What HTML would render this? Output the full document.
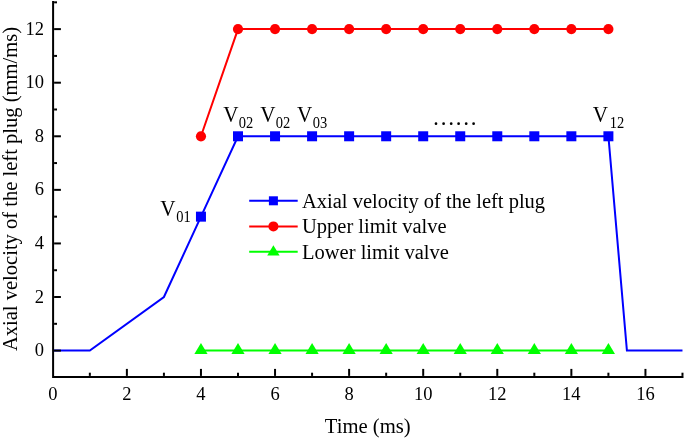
<!DOCTYPE html><html><head><meta charset="utf-8"><style>html,body{margin:0;padding:0;background:#fff;}svg{display:block;will-change:transform;}text{font-family:"Liberation Serif",serif;fill:#000;}</style></head><body>
<svg width="685" height="439" viewBox="0 0 685 439">
<rect width="685" height="439" fill="#fff"/>
<polyline fill="none" stroke="#0000ff" stroke-width="2" stroke-linejoin="miter" points="52.80,350.60 89.84,350.60 163.92,297.02 200.96,216.65 238.00,136.28 275.04,136.28 312.08,136.28 349.12,136.28 386.16,136.28 423.20,136.28 460.24,136.28 497.28,136.28 534.32,136.28 571.36,136.28 608.40,136.28 626.92,350.60 682.48,350.60"/>
<polyline fill="none" stroke="#ff0000" stroke-width="2" stroke-linejoin="miter" points="200.96,136.28 238.00,29.12 275.04,29.12 312.08,29.12 349.12,29.12 386.16,29.12 423.20,29.12 460.24,29.12 497.28,29.12 534.32,29.12 571.36,29.12 608.40,29.12"/>
<polyline fill="none" stroke="#00ff00" stroke-width="2" stroke-linejoin="miter" points="200.96,350.60 238.00,350.60 275.04,350.60 312.08,350.60 349.12,350.60 386.16,350.60 423.20,350.60 460.24,350.60 497.28,350.60 534.32,350.60 571.36,350.60 608.40,350.60"/>
<rect x="195.96" y="211.65" width="10" height="10" fill="#0000ff"/>
<rect x="233.00" y="131.28" width="10" height="10" fill="#0000ff"/>
<rect x="270.04" y="131.28" width="10" height="10" fill="#0000ff"/>
<rect x="307.08" y="131.28" width="10" height="10" fill="#0000ff"/>
<rect x="344.12" y="131.28" width="10" height="10" fill="#0000ff"/>
<rect x="381.16" y="131.28" width="10" height="10" fill="#0000ff"/>
<rect x="418.20" y="131.28" width="10" height="10" fill="#0000ff"/>
<rect x="455.24" y="131.28" width="10" height="10" fill="#0000ff"/>
<rect x="492.28" y="131.28" width="10" height="10" fill="#0000ff"/>
<rect x="529.32" y="131.28" width="10" height="10" fill="#0000ff"/>
<rect x="566.36" y="131.28" width="10" height="10" fill="#0000ff"/>
<rect x="603.40" y="131.28" width="10" height="10" fill="#0000ff"/>
<circle cx="200.96" cy="136.28" r="5.1" fill="#ff0000"/>
<circle cx="238.00" cy="29.12" r="5.1" fill="#ff0000"/>
<circle cx="275.04" cy="29.12" r="5.1" fill="#ff0000"/>
<circle cx="312.08" cy="29.12" r="5.1" fill="#ff0000"/>
<circle cx="349.12" cy="29.12" r="5.1" fill="#ff0000"/>
<circle cx="386.16" cy="29.12" r="5.1" fill="#ff0000"/>
<circle cx="423.20" cy="29.12" r="5.1" fill="#ff0000"/>
<circle cx="460.24" cy="29.12" r="5.1" fill="#ff0000"/>
<circle cx="497.28" cy="29.12" r="5.1" fill="#ff0000"/>
<circle cx="534.32" cy="29.12" r="5.1" fill="#ff0000"/>
<circle cx="571.36" cy="29.12" r="5.1" fill="#ff0000"/>
<circle cx="608.40" cy="29.12" r="5.1" fill="#ff0000"/>
<polygon points="200.96,343.00 194.36,354.00 207.56,354.00" fill="#00ff00"/>
<polygon points="238.00,343.00 231.40,354.00 244.60,354.00" fill="#00ff00"/>
<polygon points="275.04,343.00 268.44,354.00 281.64,354.00" fill="#00ff00"/>
<polygon points="312.08,343.00 305.48,354.00 318.68,354.00" fill="#00ff00"/>
<polygon points="349.12,343.00 342.52,354.00 355.72,354.00" fill="#00ff00"/>
<polygon points="386.16,343.00 379.56,354.00 392.76,354.00" fill="#00ff00"/>
<polygon points="423.20,343.00 416.60,354.00 429.80,354.00" fill="#00ff00"/>
<polygon points="460.24,343.00 453.64,354.00 466.84,354.00" fill="#00ff00"/>
<polygon points="497.28,343.00 490.68,354.00 503.88,354.00" fill="#00ff00"/>
<polygon points="534.32,343.00 527.72,354.00 540.92,354.00" fill="#00ff00"/>
<polygon points="571.36,343.00 564.76,354.00 577.96,354.00" fill="#00ff00"/>
<polygon points="608.40,343.00 601.80,354.00 615.00,354.00" fill="#00ff00"/>
<g stroke="#000" stroke-width="2" fill="none">
<path d="M53.1,1 V377.9 M52.1,376.9 H683.5"/>
<path d="M54.1,350.60 h6.8"/>
<path d="M54.1,323.81 h2.9"/>
<path d="M54.1,297.02 h6.8"/>
<path d="M54.1,270.23 h2.9"/>
<path d="M54.1,243.44 h6.8"/>
<path d="M54.1,216.65 h2.9"/>
<path d="M54.1,189.86 h6.8"/>
<path d="M54.1,163.07 h2.9"/>
<path d="M54.1,136.28 h6.8"/>
<path d="M54.1,109.49 h2.9"/>
<path d="M54.1,82.70 h6.8"/>
<path d="M54.1,55.91 h2.9"/>
<path d="M54.1,29.12 h6.8"/>
<path d="M54.1,2.33 h2.9"/>
<path d="M89.84,375.9 v-3.2"/>
<path d="M126.88,375.9 v-7.0"/>
<path d="M163.92,375.9 v-3.2"/>
<path d="M200.96,375.9 v-7.0"/>
<path d="M238.00,375.9 v-3.2"/>
<path d="M275.04,375.9 v-7.0"/>
<path d="M312.08,375.9 v-3.2"/>
<path d="M349.12,375.9 v-7.0"/>
<path d="M386.16,375.9 v-3.2"/>
<path d="M423.20,375.9 v-7.0"/>
<path d="M460.24,375.9 v-3.2"/>
<path d="M497.28,375.9 v-7.0"/>
<path d="M534.32,375.9 v-3.2"/>
<path d="M571.36,375.9 v-7.0"/>
<path d="M608.40,375.9 v-3.2"/>
<path d="M645.44,375.9 v-7.0"/>
<path d="M682.48,375.9 v-3.2"/>
</g>
<text x="44" y="356.20" font-size="18.5" text-anchor="end">0</text>
<text x="44" y="302.62" font-size="18.5" text-anchor="end">2</text>
<text x="44" y="249.04" font-size="18.5" text-anchor="end">4</text>
<text x="44" y="195.46" font-size="18.5" text-anchor="end">6</text>
<text x="44" y="141.88" font-size="18.5" text-anchor="end">8</text>
<text x="44" y="88.30" font-size="18.5" text-anchor="end">10</text>
<text x="44" y="34.72" font-size="18.5" text-anchor="end">12</text>
<text x="52.80" y="399.5" font-size="18.5" text-anchor="middle">0</text>
<text x="126.88" y="399.5" font-size="18.5" text-anchor="middle">2</text>
<text x="200.96" y="399.5" font-size="18.5" text-anchor="middle">4</text>
<text x="275.04" y="399.5" font-size="18.5" text-anchor="middle">6</text>
<text x="349.12" y="399.5" font-size="18.5" text-anchor="middle">8</text>
<text x="423.20" y="399.5" font-size="18.5" text-anchor="middle">10</text>
<text x="497.28" y="399.5" font-size="18.5" text-anchor="middle">12</text>
<text x="571.36" y="399.5" font-size="18.5" text-anchor="middle">14</text>
<text x="645.44" y="399.5" font-size="18.5" text-anchor="middle">16</text>
<text x="367.7" y="433.3" font-size="20.65" text-anchor="middle">Time (ms)</text>
<text transform="translate(16.5,189.05) rotate(-90)" x="0" y="0" font-size="20.55" text-anchor="middle">Axial velocity of the left plug (mm/ms)</text>
<path d="M249.2,200.80 H297.7" stroke="#0000ff" stroke-width="2"/>
<rect x="268.90" y="196.30" width="9" height="9" fill="#0000ff"/>
<text x="302" y="207.80" font-size="20.5">Axial velocity of the left plug</text>
<path d="M249.2,226.40 H297.7" stroke="#ff0000" stroke-width="2"/>
<circle cx="273.40" cy="226.40" r="5.0" fill="#ff0000"/>
<text x="302" y="233.40" font-size="20.5">Upper limit valve</text>
<path d="M249.2,251.80 H297.7" stroke="#00ff00" stroke-width="2"/>
<polygon points="273.40,245.20 267.20,255.40 279.60,255.40" fill="#00ff00"/>
<text x="302" y="258.80" font-size="20.5">Lower limit valve</text>
<text transform="translate(160.26,216.00) scale(0.940,1)" font-size="22.5">V</text>
<text transform="translate(176.35,222.00) scale(0.880,1)" font-size="16.5">01</text>
<text transform="translate(223.16,122.00) scale(0.940,1)" font-size="22.5">V</text>
<text transform="translate(238.85,128.00) scale(0.880,1)" font-size="16.5">02</text>
<text transform="translate(260.16,122.00) scale(0.940,1)" font-size="22.5">V</text>
<text transform="translate(275.85,128.00) scale(0.880,1)" font-size="16.5">02</text>
<text transform="translate(296.96,122.00) scale(0.940,1)" font-size="22.5">V</text>
<text transform="translate(312.65,128.00) scale(0.880,1)" font-size="16.5">03</text>
<text transform="translate(592.76,122.00) scale(0.940,1)" font-size="22.5">V</text>
<text transform="translate(609.72,128.00) scale(0.880,1)" font-size="16.5">12</text>
<circle cx="436.00" cy="123.7" r="1.35" fill="#000"/>
<circle cx="443.60" cy="123.7" r="1.35" fill="#000"/>
<circle cx="451.20" cy="123.7" r="1.35" fill="#000"/>
<circle cx="458.60" cy="123.7" r="1.35" fill="#000"/>
<circle cx="466.20" cy="123.7" r="1.35" fill="#000"/>
<circle cx="473.60" cy="123.7" r="1.35" fill="#000"/>
</svg></body></html>
